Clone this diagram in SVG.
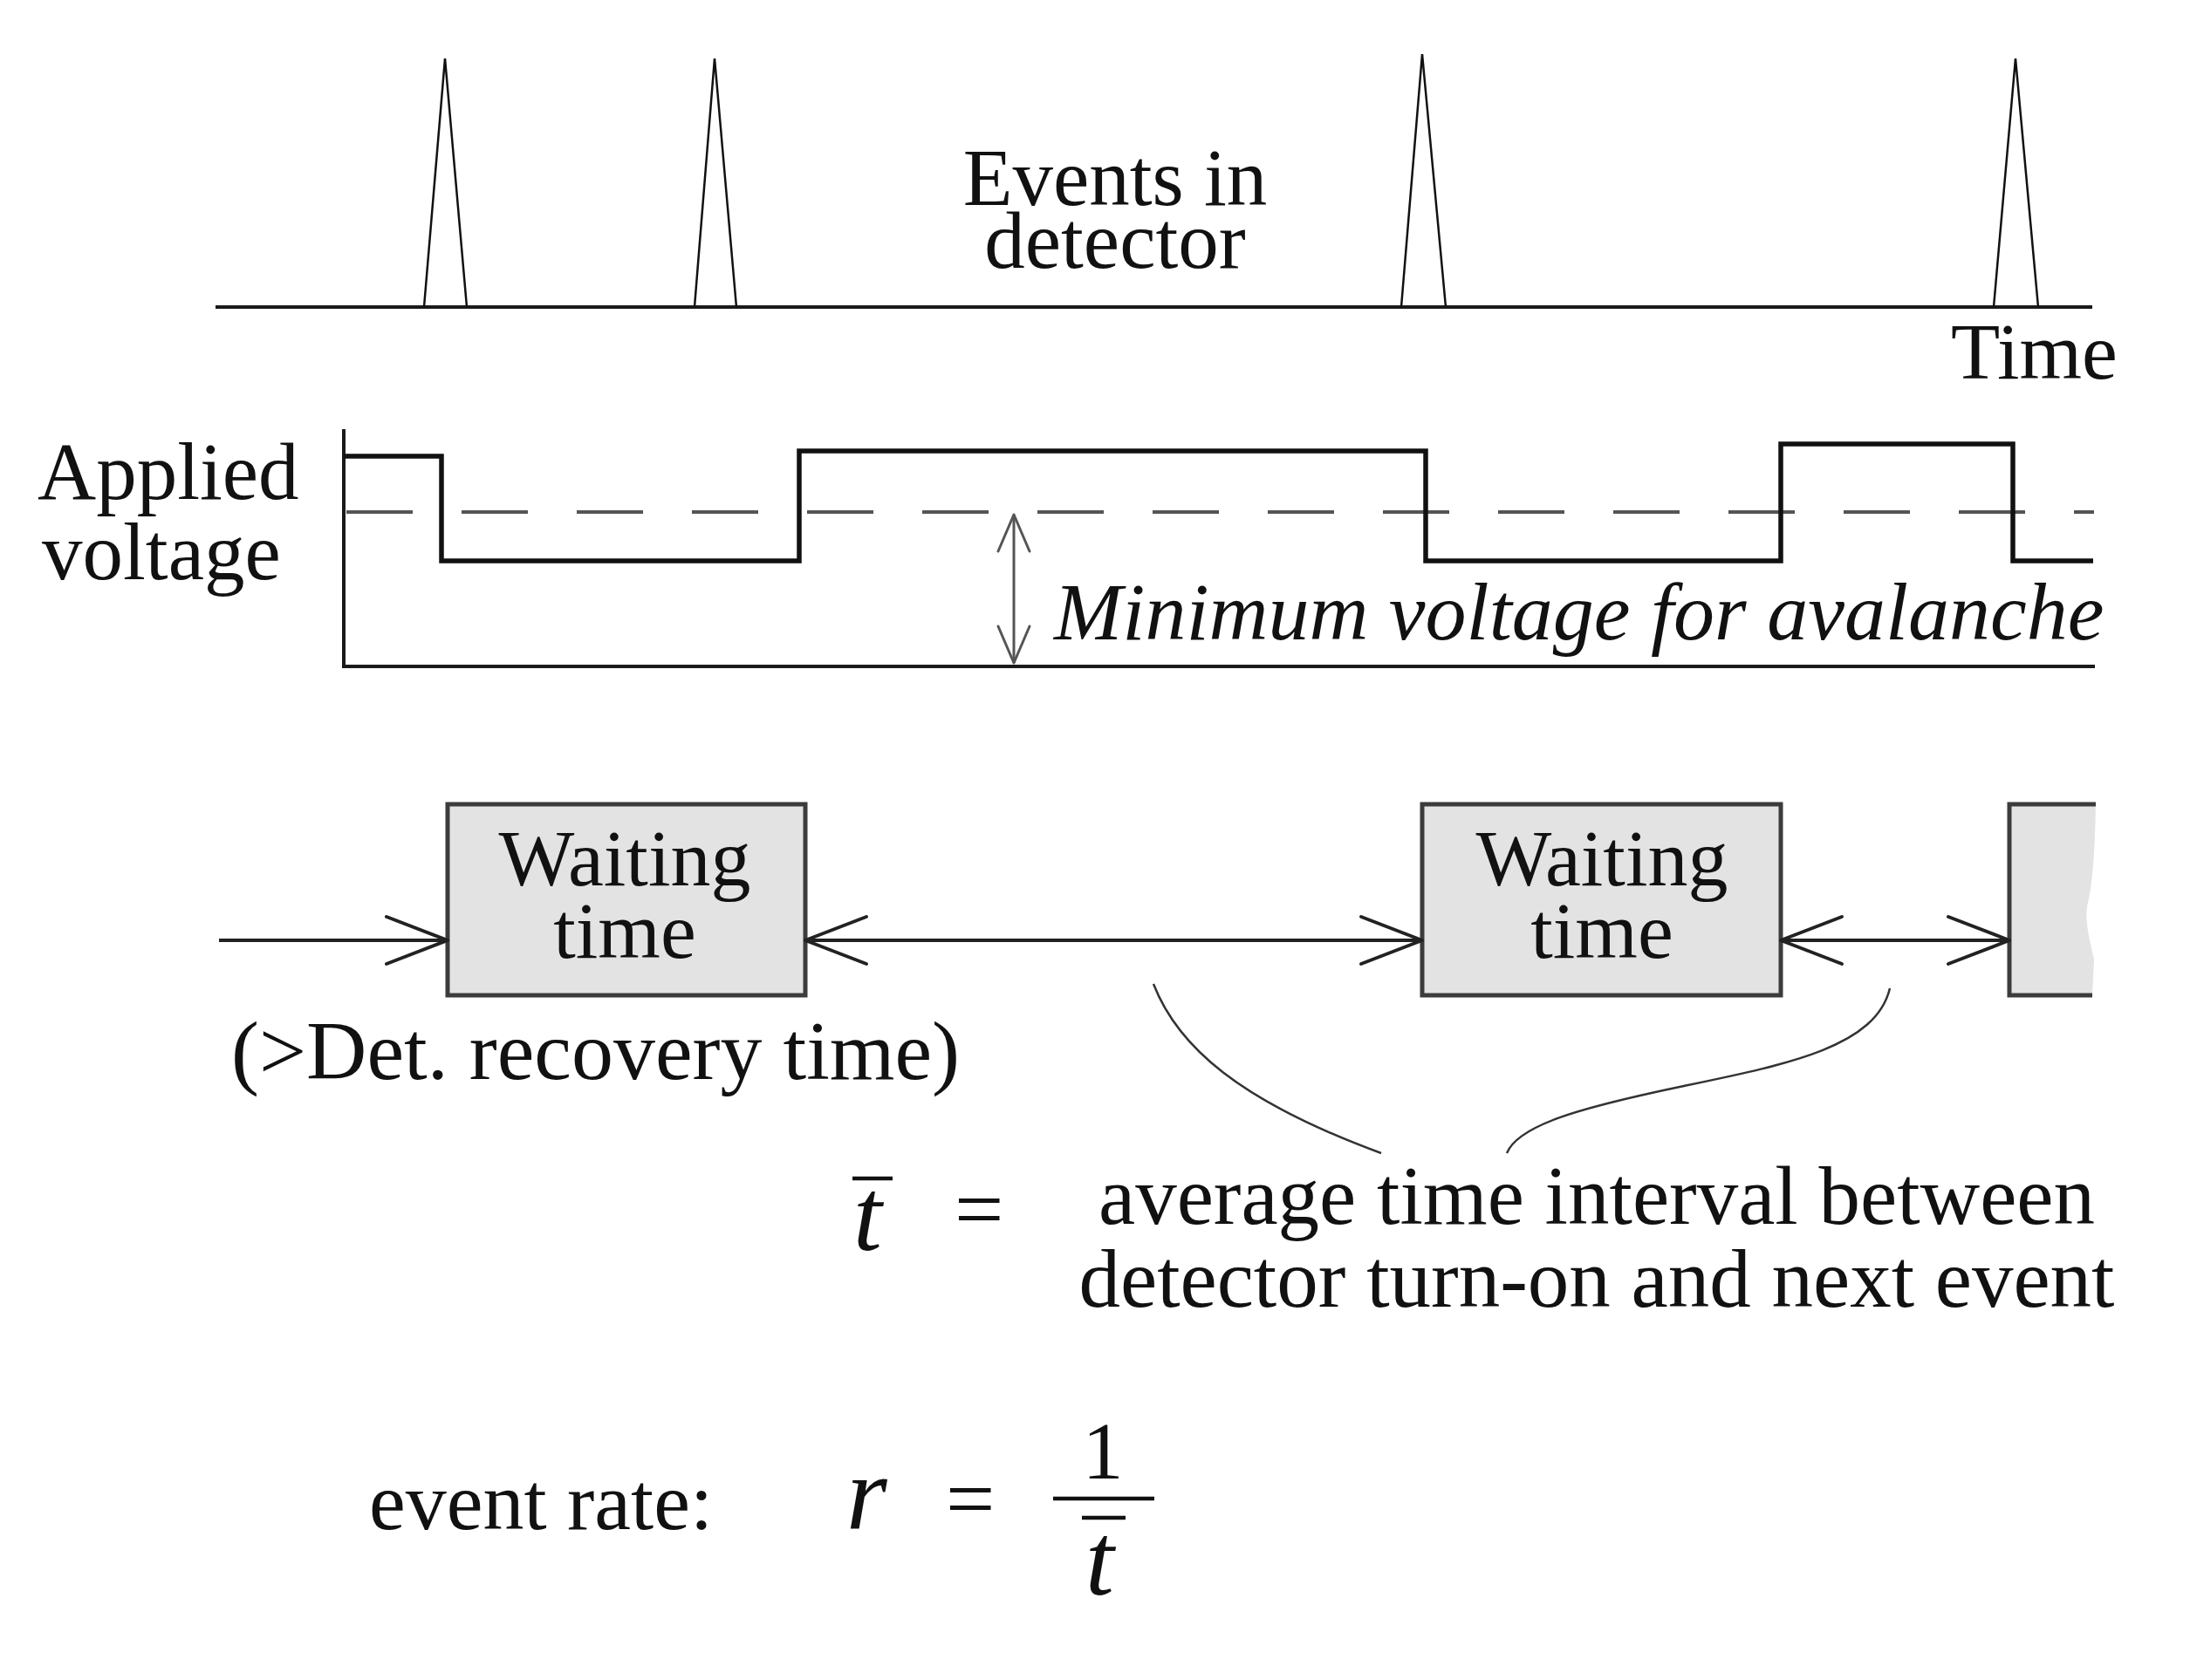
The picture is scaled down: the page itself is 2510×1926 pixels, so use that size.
<svg xmlns="http://www.w3.org/2000/svg" width="2510" height="1926" viewBox="0 0 2510 1926">
<style>
text{font-family:"Liberation Serif","Times New Roman",serif;fill:#111}
.it{font-style:italic}
.ln{fill:none;stroke:#1a1a1a;stroke-width:4}
.pk{fill:none;stroke:#111;stroke-width:2.5;stroke-linejoin:miter}
.wave{fill:none;stroke:#111;stroke-width:5.5;stroke-linejoin:miter}
.dash{fill:none;stroke:#555;stroke-width:4;stroke-dasharray:76 56}
.box{fill:#e3e3e3;stroke:#3c3c3c;stroke-width:5}
.conn{fill:none;stroke:#222;stroke-width:4}
.curve{fill:none;stroke:#333;stroke-width:2.5}
.bar{stroke:#111;stroke-width:4.5}
</style>
<defs>
<marker id="av" markerUnits="userSpaceOnUse" markerWidth="90" markerHeight="80" viewBox="-80 -40 90 80" refX="0" refY="0" orient="auto-start-reverse">
<path d="M-70,-27 L0,0 L-70,27" fill="none" stroke="#222" stroke-width="4" stroke-linejoin="round" stroke-linecap="round"/>
</marker>
<marker id="avs" markerUnits="userSpaceOnUse" markerWidth="60" markerHeight="50" viewBox="-50 -25 60 50" refX="0" refY="0" orient="auto-start-reverse">
<path d="M-42,-18 L0,0 L-42,18" fill="none" stroke="#555" stroke-width="3" stroke-linejoin="round" stroke-linecap="round"/>
</marker>
</defs>
<rect width="2510" height="1926" fill="#fff"/>

<g id="events">
<line class="ln" x1="247" y1="352" x2="2398" y2="352"/>
<polyline class="pk" points="486,352 510,67 535,352"/>
<polyline class="pk" points="796,352 819,67 844,352"/>
<polyline class="pk" points="1606,352 1630,62 1657,352"/>
<polyline class="pk" points="2285,352 2310,67 2336,352"/>
<text font-size="93" text-anchor="middle"><tspan x="1278" y="235">Events in</tspan><tspan x="1278" y="307">detector</tspan></text>
<text x="2236" y="434" font-size="92">Time</text>
</g>

<g id="voltage">
<line class="ln" x1="394" y1="492" x2="394" y2="766" stroke-width="3.5"/>
<line class="ln" x1="392" y1="764" x2="2401" y2="764"/>
<line class="dash" x1="397" y1="587" x2="2400" y2="587"/>
<path class="wave" d="M394,523 H506 V643 H916 V517 H1634 V643 H2041 V509 H2307 V643 H2399"/>
<text font-size="93"><tspan x="43" y="572">Applied</tspan><tspan x="48" y="664">voltage</tspan></text>
<text class="it" x="1208" y="733" font-size="94">Minimum voltage for avalanche</text>
</g>

<g id="box1">
<rect class="box" x="513" y="922" width="410" height="219"/>
<text font-size="92" text-anchor="middle"><tspan x="716" y="1015">Waiting</tspan><tspan x="716" y="1098">time</tspan></text>
</g>
<g id="box2">
<rect class="box" x="1630" y="922" width="411" height="219"/>
<text font-size="92" text-anchor="middle"><tspan x="1836" y="1015">Waiting</tspan><tspan x="1836" y="1098">time</tspan></text>
</g>
<g id="box3">
<path d="M2303,922 H2402 C2401,970 2399,1010 2393,1035 C2388,1055 2396,1080 2400,1100 L2398,1141 H2303 Z" fill="#e3e3e3"/>
<path d="M2402,922 H2303 V1141 H2398" fill="none" stroke="#3c3c3c" stroke-width="5"/>
</g>

<g id="labels">
<text x="265" y="1237" font-size="96">(&gt;Det. recovery time)</text>
<text class="it" x="978" y="1433" font-size="118">t</text>
<line class="bar" x1="977" y1="1351" x2="1023" y2="1351"/>
<text x="1094" y="1420" font-size="100">=</text>
<text font-size="95" text-anchor="middle"><tspan x="1830" y="1403">average time interval between</tspan><tspan x="1830" y="1498">detector turn-on and next event</tspan></text>
<text x="423" y="1753" font-size="94">event rate:</text>
<text class="it" x="970" y="1753" font-size="120">r</text>
<text x="1084" y="1752" font-size="100">=</text>
<text x="1264" y="1695" font-size="94" text-anchor="middle">1</text>
<line class="bar" x1="1207" y1="1718" x2="1323" y2="1718" stroke-width="5"/>
<line class="bar" x1="1240" y1="1740" x2="1290" y2="1740"/>
<text class="it" x="1244" y="1828" font-size="118">t</text>
</g>

<g id="connectors">
<line class="conn" x1="251" y1="1078" x2="513" y2="1078" marker-end="url(#av)"/>
<line class="conn" x1="923" y1="1078" x2="1630" y2="1078" marker-start="url(#av)" marker-end="url(#av)"/>
<line class="conn" x1="2041" y1="1078" x2="2303" y2="1078" marker-start="url(#av)" marker-end="url(#av)"/>
<line x1="1162" y1="590" x2="1162" y2="760" stroke="#555" stroke-width="3" marker-start="url(#avs)" marker-end="url(#avs)"/>
<path class="curve" d="M1322,1128 C1350,1200 1420,1262 1583,1322"/>
<path class="curve" d="M2166,1133 C2150,1200 2050,1220 1930,1245 S1740,1290 1727,1322"/>
</g>
</svg>
